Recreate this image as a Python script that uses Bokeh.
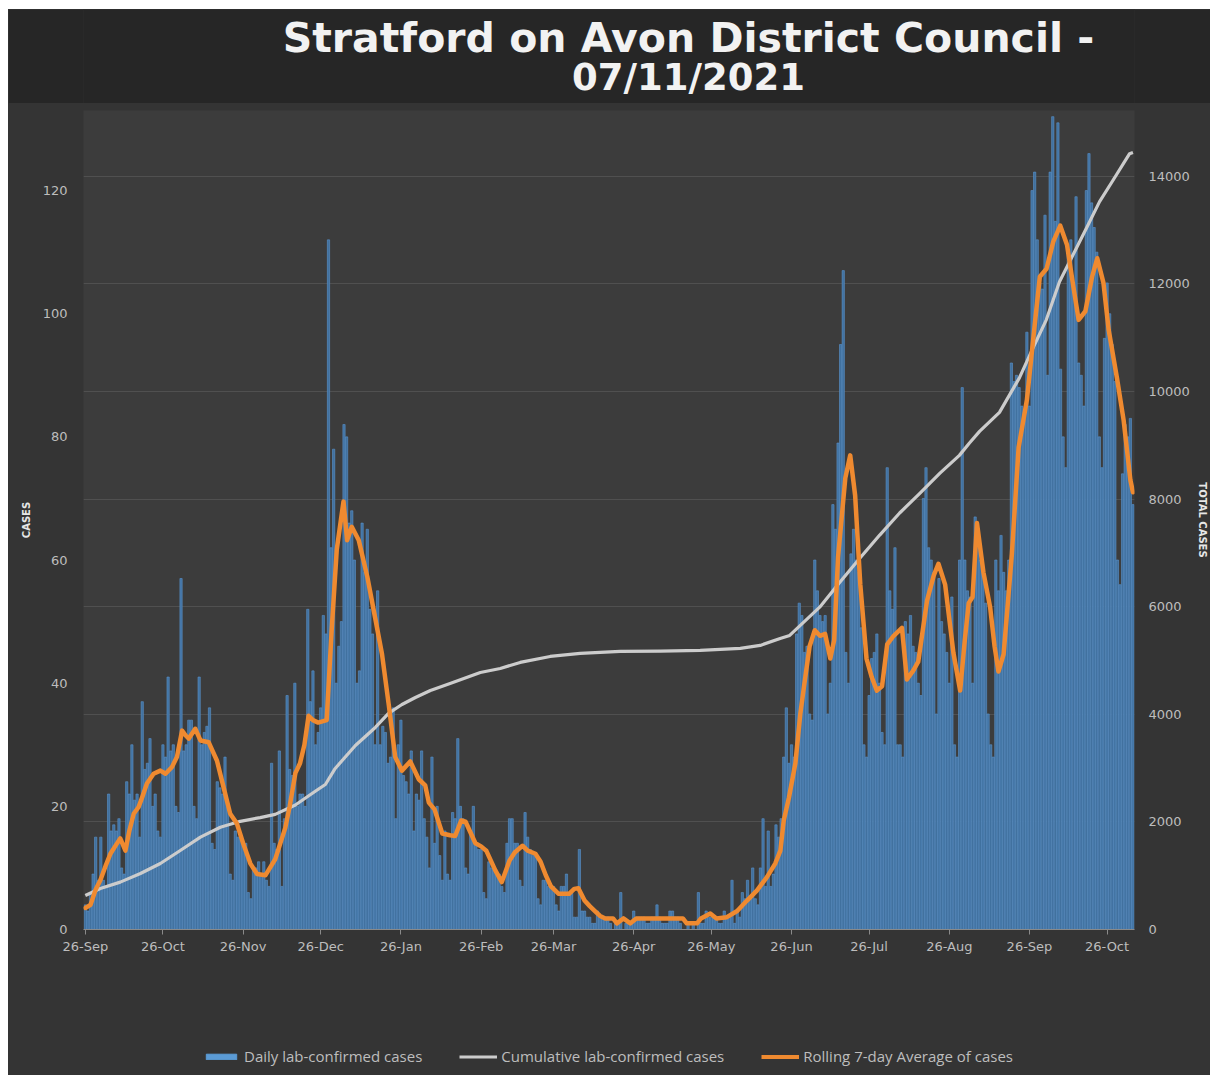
from datetime import datetime
import numpy as np
import pandas as pd
from bokeh.plotting import figure
from bokeh.layouts import column
from bokeh.models import (Range1d, LinearAxis, FixedTicker, DatetimeTickFormatter,
                          Legend, LegendItem, Grid, Label)
from bokeh.embed import file_html
from bokeh.resources import INLINE

# ---------------- data ----------------
START = "2020-09-26"
title_lines = ["Stratford on Avon District Council -", "07/11/2021"]
x_tick_dates = ["2020-09-26", "2020-10-26", "2020-11-26", "2020-12-26", "2021-01-26",
                "2021-02-26", "2021-03-26", "2021-04-26", "2021-05-26", "2021-06-26",
                "2021-07-26", "2021-08-26", "2021-09-26", "2021-10-26"]
left_ticks = [0, 20, 40, 60, 80, 100, 120]
right_ticks = [0, 2000, 4000, 6000, 8000, 10000, 12000, 14000]
series_names = ["Daily lab-confirmed cases", "Cumulative lab-confirmed cases",
                "Rolling 7-day Average of cases"]

# daily cases, one row per week (Sat..Fri) from 26-Sep-2020
daily_cases = [
    4, 3, 6, 9, 15, 8, 15,
    8, 7, 22, 16, 17, 16, 18,
    10, 9, 24, 22, 30, 21, 22,
    15, 37, 26, 27, 31, 20, 22,
    16, 15, 30, 28, 41, 29, 30,
    20, 19, 57, 29, 30, 34, 34,
    20, 18, 41, 30, 32, 33, 36,
    14, 13, 24, 23, 22, 28, 20,
    9, 8, 16, 15, 15, 14, 14,
    6, 5, 10, 10, 11, 9, 11,
    8, 7, 27, 14, 13, 29, 7,
    18, 38, 26, 25, 40, 20, 22,
    22, 20, 52, 37, 42, 30, 32,
    36, 51, 48, 112, 62, 78, 40,
    46, 50, 82, 80, 66, 68, 60,
    40, 42, 66, 58, 65, 52, 48,
    30, 55, 30, 33, 32, 27, 28,
    36, 18, 30, 34, 25, 24, 22,
    29, 16, 22, 21, 29, 18, 15,
    10, 28, 14, 20, 12, 8, 16,
    9, 8, 19, 18, 31, 20, 18,
    10, 9, 16, 20, 14, 13, 13,
    6, 5, 11, 10, 10, 9, 9,
    7, 6, 14, 18, 18, 14, 14,
    8, 7, 19, 15, 13, 12, 12,
    5, 4, 8, 8, 7, 7, 7,
    4, 3, 7, 7, 9, 6, 6,
    2, 2, 13, 3, 3, 2, 2,
    1, 1, 3, 2, 2, 2, 2,
    1, 0, 1, 1, 6, 0, 1,
    1, 1, 3, 2, 2, 2, 2,
    1, 1, 2, 2, 4, 2, 1,
    1, 1, 3, 3, 2, 2, 1,
    0, 0, 1, 0, 1, 0, 6,
    1, 1, 3, 2, 2, 2, 2,
    1, 1, 3, 2, 2, 8, 1,
    3, 2, 6, 5, 8, 5, 10,
    5, 4, 10, 18, 7, 16, 7,
    9, 17, 15, 18, 28, 36, 27,
    30, 28, 48, 53, 51, 45, 46,
    35, 34, 60, 55, 51, 50, 51,
    35, 40, 69, 65, 79, 95, 107,
    45, 40, 61, 65, 60, 58, 49,
    30, 28, 38, 44, 45, 48, 40,
    32, 30, 75, 55, 52, 62, 30,
    30, 28, 50, 48, 51, 46, 45,
    40, 38, 70, 75, 62, 60, 58,
    35, 57, 50, 48, 45, 40, 54,
    30, 28, 60, 88, 60, 55, 54,
    40, 67, 62, 60, 58, 53, 35,
    30, 28, 60, 55, 64, 58, 55,
    60, 92, 89, 90, 88, 85, 84,
    97, 85, 120, 123, 112, 105, 104,
    116, 90, 123, 132, 115, 131, 91,
    80, 75, 110, 112, 105, 119, 92,
    90, 85, 120, 126, 118, 114, 110,
    80, 75, 96, 105, 100, 95, 89,
    60, 56, 74, 82, 80, 83, 69,
]

# rolling 7-day average: (days after 26-Sep-2020, value)
avg_day = [0, 2, 4, 5.8, 8, 9.7, 11.5, 13.5, 15.5, 17,
           18.7, 20.6, 22, 23.8, 26.4, 29, 31, 33.5, 35.4, 37.4,
           38.8, 40, 42.5, 44.5, 47.7, 50.9, 53.5, 56, 58.6, 61,
           63.8, 66.4, 69.6, 73.4, 75, 77.3, 79, 81.2, 83, 84.7,
           86.3, 88, 90, 93.3, 95.2, 97.2, 99.8, 101.2, 103, 105.7,
           109, 112, 114.7, 117.3, 119.8, 122.4, 125.6, 128.9, 131.4, 132.8,
           135, 138, 141, 143, 145.3, 147, 150.8, 153, 155, 158.5,
           161, 164, 166, 169, 171, 174, 176, 178, 180, 183,
           187, 189, 190.6, 193, 195, 197, 199, 201, 204, 205.5,
           208, 210.7, 213, 220, 226, 231, 232.5, 236.5, 238, 241.6,
           244, 248, 252, 255.8, 259.6, 263.5, 266.7, 268.7, 270, 272,
           274.5, 276.4, 278, 280, 282, 284, 286, 288, 289.5, 291,
           293.8, 295.7, 297.6, 299.6, 302, 304, 306, 308, 310, 312.5,
           315.7, 317.6, 320, 322, 325.4, 328, 329.8, 332.4, 335.6, 338.2,
           340, 341.5, 343, 344.7, 347.2, 349.8, 351.5, 353, 355, 358.2,
           360.8, 364, 366.6, 369, 371.6, 374.2, 376.9, 379.5, 382, 384,
           386.6, 389.2, 391.2, 393.6, 395.6, 398.8, 401.4, 404, 405]
avg_value = [3.5, 4, 6.5, 8, 10.5, 12.3, 13.5, 14.8, 12.8, 16,
             18.8, 19.9, 21.5, 23.7, 25.3, 25.8, 25.3, 26.4, 28, 32.3,
             31.5, 31, 32.6, 30.7, 30.4, 27.4, 23, 18.8, 17.2, 14,
             10.7, 9, 8.8, 11.4, 13.5, 16.5, 20, 25.4, 27, 30,
             34.7, 34, 33.6, 34, 48.4, 61.7, 69.5, 63.2, 65.4, 63.2,
             57.3, 50.7, 44.7, 36.5, 28, 25.8, 27.3, 24.4, 23.4, 20.6,
             19.5, 15.6, 15.3, 15.2, 17.7, 17.5, 14, 13.5, 12.8, 9.6,
             7.7, 11.2, 12.5, 13.6, 12.8, 12.3, 11, 8.8, 7, 5.8,
             5.8, 6.6, 6.7, 4.7, 3.8, 3, 2.2, 1.8, 1.8, 1.0,
             1.8, 1.0, 1.8, 1.8, 1.8, 1.8, 1.0, 1.0, 1.8, 2.6,
             1.8, 2, 3, 4.7, 6.3, 8.5, 10.7, 12.8, 17.7, 21.4,
             27, 35, 40, 46, 48.6, 47.7, 48, 44, 47, 60.5,
             73.3, 77, 70.5, 56, 44, 41, 38.8, 39.5, 46.3, 47.7,
             49, 40.6, 42, 43.5, 53.4, 57.5, 59.4, 56, 44.9, 38.8,
             47, 53, 54, 66, 58, 52.3, 46, 41.9, 44.7, 61,
             78.3, 86, 96.5, 106, 107.3, 111.7, 114.3, 111.2, 104.3, 99,
             100.4, 106, 109, 105, 97.4, 89.6, 82.7, 73, 71]

# cumulative cases: (days after 26-Sep-2020, total)
cum_day = [0, 5.8, 13.5, 21.3, 29, 36.7, 44.5, 52.2, 59.9, 67.6,
           73.4, 81.2, 88.9, 92.8, 96.6, 104.4, 112.1, 117.2, 122.4, 127.6,
           133.4, 141, 152.7, 160.4, 168.1, 179.7, 191.3, 206.8, 222.3, 237.7,
           253.2, 260.9, 268.6, 272.3, 283.9, 291.6, 299.4, 307.1, 314.8, 322.5,
           330.3, 337.9, 341.8, 345.7, 353.4, 361.1, 366.3, 371.5, 376.6, 381.8,
           387, 392.1, 397.3, 403.7, 405]
cum_value = [632, 762, 880, 1040, 1227, 1468, 1716, 1900, 2010, 2080,
             2140, 2314, 2569, 2695, 2993, 3420, 3755, 4015, 4182, 4312,
             4442, 4572, 4777, 4851, 4963, 5074, 5130, 5167, 5175, 5186,
             5223, 5279, 5409, 5465, 5990, 6450, 6900, 7330, 7740, 8100,
             8476, 8811, 9041, 9257, 9610, 10252, 10800, 11330, 12039, 12535,
             13030, 13526, 13924, 14417, 14440]

# ---------------- build ----------------
start = pd.Timestamp(START)
dates = pd.date_range(start, periods=len(daily_cases), freq="D")
avg_dates = start + pd.to_timedelta(np.array(avg_day), unit="D")
cum_dates = start + pd.to_timedelta(np.array(cum_day), unit="D")
DAY_MS = 86400000

BG_TITLE = "#262626"
BG_FRAME = "#3c3c3c"
BG_BORDER = "#343434"
TICK_COL = "#bdbdbd"
BAR_FILL, BAR_LINE = "#41719f", "#5b93cc"
CUM_COL, AVG_COL = "#cccccc", "#ef8a30"
W = 1202
LEFT, RIGHT = 75, 76

# ---- title band (coordinates of this small figure are page pixels)
t = figure(width=W, height=94, x_range=Range1d(83, 1134), y_range=Range1d(103, 9),
           output_backend="svg", toolbar_location=None,
           min_border_left=LEFT, min_border_right=RIGHT, min_border_top=0, min_border_bottom=0,
           x_axis_location=None, y_axis_location=None)
t.grid.visible = False
t.outline_line_color = None
t.background_fill_color = BG_TITLE
t.border_fill_color = BG_TITLE
for txt, yy, fs in zip(title_lines, [37, 77], ["41px", "37px"]):
    t.add_layout(Label(x=688, y=yy, text=txt, text_align="center", text_baseline="middle",
                       text_font="DejaVu Sans", text_font_style="bold",
                       text_font_size=fs, text_color="#f2f2f2"))

# ---- main chart
x_start = (start - pd.Timedelta(hours=17)).to_pydatetime()
x_end = (start + pd.Timedelta(days=405.6)).to_pydatetime()

p = figure(width=W, height=897, x_axis_type="datetime",
           x_range=Range1d(x_start, x_end), y_range=Range1d(0, 133),
           output_backend="svg", toolbar_location=None,
           min_border_left=LEFT, min_border_right=RIGHT, min_border_top=7, min_border_bottom=71)
p.extra_y_ranges = {"right": Range1d(0, 15220)}
p.background_fill_color = BG_FRAME
p.border_fill_color = BG_BORDER
p.outline_line_color = None
p.xgrid.visible = False
p.ygrid.visible = False

p.add_layout(Grid(dimension=1, ticker=FixedTicker(ticks=right_ticks), y_range_name="right",
                  grid_line_color="#505050", grid_line_width=1))

bars = p.vbar(x=dates, top=daily_cases, width=0.88 * DAY_MS,
              fill_color=BAR_FILL, line_color=BAR_LINE, line_width=0.6)
cum = p.line(x=cum_dates, y=cum_value, y_range_name="right",
             line_color=CUM_COL, line_width=3.2, line_join="round")
avg = p.line(x=avg_dates, y=avg_value, line_color=AVG_COL, line_width=4.5,
             line_join="round", line_cap="round")

# x axis
xax = p.xaxis[0]
xax.ticker = FixedTicker(ticks=[pd.Timestamp(d).value // 10**6 for d in x_tick_dates])
xax.formatter = DatetimeTickFormatter(milliseconds="%d-%b", seconds="%d-%b", minsec="%d-%b",
                                      minutes="%d-%b", hourmin="%d-%b", hours="%d-%b",
                                      days="%d-%b", months="%d-%b", years="%d-%b")
xax.minor_tick_line_color = None
xax.minor_tick_out = 0
xax.major_tick_in = 0
xax.major_tick_out = 5
xax.major_tick_line_color = "#8a8a8a"
xax.axis_line_color = "#8a8a8a"
xax.major_label_standoff = 4
xax.major_label_text_color = TICK_COL
xax.major_label_text_font = "DejaVu Sans"
xax.major_label_text_font_size = "13px"

# left axis
yax = p.yaxis[0]
yax.ticker = FixedTicker(ticks=left_ticks)
yax.axis_line_color = None
yax.major_tick_line_color = None
yax.minor_tick_line_color = None
yax.major_tick_out = 0
yax.minor_tick_out = 0
yax.major_label_standoff = 16
yax.major_label_text_color = TICK_COL
yax.major_label_text_font = "DejaVu Sans"
yax.major_label_text_font_size = "13px"
yax.axis_label = "CASES"
yax.axis_label_standoff = 8
yax.axis_label_text_font = "DejaVu Sans"
yax.axis_label_text_font_style = "bold"
yax.axis_label_text_font_size = "10px"
yax.axis_label_text_color = "#e6e6e6"

# right axis
rax = LinearAxis(y_range_name="right", ticker=FixedTicker(ticks=right_ticks))
rax.axis_line_color = None
rax.major_tick_line_color = None
rax.minor_tick_line_color = None
rax.major_tick_out = 0
rax.minor_tick_out = 0
rax.major_label_standoff = 14
rax.major_label_text_color = TICK_COL
rax.major_label_text_font = "DejaVu Sans"
rax.major_label_text_font_size = "13px"
rax.axis_label = "TOTAL CASES"
rax.axis_label_standoff = 4
rax.axis_label_orientation = "vertical"
rax.axis_label_text_font = "DejaVu Sans"
rax.axis_label_text_font_style = "bold"
rax.axis_label_text_font_size = "10px"
rax.axis_label_text_color = "#e6e6e6"
p.add_layout(rax, "right")

# ---- legend strip (proxy renderers hold no visible data, only the series styles)
NAN = [float("nan")]
lg = figure(width=W, height=75, x_range=Range1d(0, 1), y_range=Range1d(0, 1),
            output_backend="svg", toolbar_location=None,
            min_border_left=LEFT, min_border_right=RIGHT, min_border_top=0, min_border_bottom=0,
            x_axis_location=None, y_axis_location=None)
lg.grid.visible = False
lg.outline_line_color = None
lg.background_fill_color = BG_BORDER
lg.border_fill_color = BG_BORDER
k1 = lg.vbar(x=NAN, top=NAN, width=1, fill_color="#5b9bd5", line_color="#5b9bd5")
k2 = lg.line(x=NAN, y=NAN, line_color=CUM_COL, line_width=3)
k3 = lg.line(x=NAN, y=NAN, line_color=AVG_COL, line_width=4)
legend = Legend(items=[LegendItem(label=series_names[0], renderers=[k1], index=0),
                       LegendItem(label=series_names[1], renderers=[k2], index=0),
                       LegendItem(label=series_names[2], renderers=[k3], index=0)],
                orientation="horizontal", location=(119, 9),
                spacing=37, padding=0, margin=0, label_standoff=4,
                glyph_width=38, glyph_height=7, label_height=14,
                background_fill_alpha=0, border_line_color=None,
                label_text_font="Open Sans", label_text_font_size="15px",
                label_text_color=TICK_COL)
lg.add_layout(legend)

layout = column(t, p, lg, spacing=0, margin=(9, 0, 0, 8),
                styles={"background-color": BG_BORDER})
open("out.html", "w").write(file_html(layout, INLINE))
